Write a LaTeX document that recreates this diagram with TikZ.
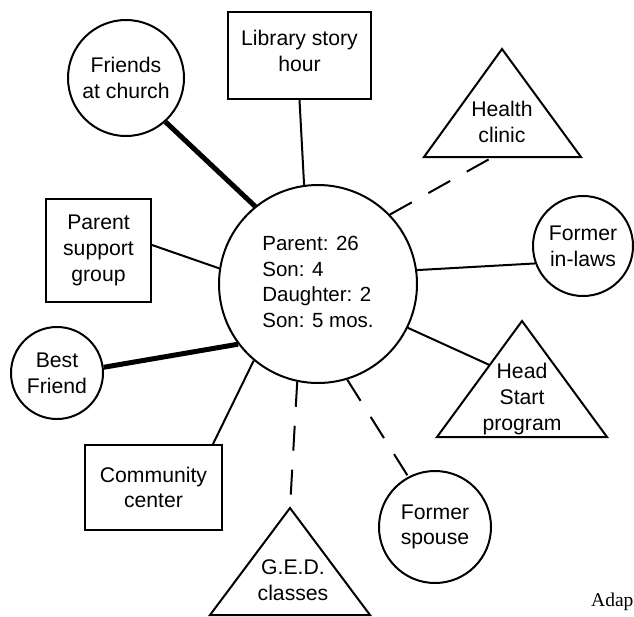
\documentclass[tikz,border=0pt]{standalone}
\usepackage{fontspec}
\setmainfont{Liberation Sans}
\newfontfamily\serifadap{Liberation Serif}
\begin{document}
\begin{tikzpicture}[x=1pt,y=-1pt,
  every node/.style={font=\fontsize{21.2}{25.7}\selectfont, align=center, inner sep=0pt},
  circ/.style={circle, draw, line width=2pt},
  boxnode/.style={rectangle, draw, line width=2pt},
  tri/.style={line width=2pt, line join=miter},
  link/.style={line width=2pt},
  stronglink/.style={line width=5pt},
  weaklink/.style={line width=2pt, dash pattern=on 25pt off 19pt}]
\useasboundingbox (0,0) rectangle (634,616);

% centre
\node[circ, minimum size=198pt, font=\fontsize{20.5}{25.7}\selectfont] (c) at (318,284) {\begin{tabular}{@{}l@{}}Parent: 26\\Son: 4\\Daughter: 2\\Son: 5 mos.\end{tabular}};

% circles
\node[circ, minimum size=116pt] (fc) at (126,78) {Friends\\at church};
\node[circ, minimum size=100pt] (fil) at (583,246) {Former\\in-laws};
\node[circ, minimum size=92pt] (bf) at (57,373) {Best\\Friend};
\node[circ, minimum size=112pt] (fs) at (435,527) {Former\\spouse};

% boxes
\node[boxnode, minimum width=143pt, minimum height=87pt] (lib) at (299.5,55.5) {};
\node (libt) at (299.5,51) {Library story\\hour};
\node[boxnode, minimum width=105pt, minimum height=103pt] (psg) at (98.5,250.5) {Parent\\support\\group};
\node[boxnode, minimum width=137pt, minimum height=85pt] (cc) at (153.5,487.5) {Community\\center};

% triangles
\coordinate (hc-a) at (502,49);
\coordinate (hc-l) at (424,157);
\coordinate (hc-r) at (581,157);
\coordinate (hc-in) at (493,157);
\draw[tri] (hc-a) -- (hc-r) -- (hc-l) -- cycle;
\node (hct) at (502,122) {Health\\clinic};

\coordinate (hs-a) at (522,321);
\coordinate (hs-l) at (437,437);
\coordinate (hs-r) at (607,437);
\coordinate (hs-in) at (489.5,365);
\draw[tri] (hs-a) -- (hs-r) -- (hs-l) -- cycle;
\node (hst) at (522,399) {Head\\Start\\program};

\coordinate (ged-a) at (290,508);
\coordinate (ged-l) at (210,615);
\coordinate (ged-r) at (370,615);
\draw[tri] (ged-a) -- (ged-r) -- (ged-l) -- cycle;
\node (gedt) at (293,580) {G.E.D.\\classes};

% caption
\node[font=\serifadap\fontsize{19.5}{22}\selectfont, anchor=base west] (adap) at (591,606) {Adap};

% connectors
\draw[link] (lib.south) -- (c.98.6);
\draw[stronglink] (fc.-48.6) -- (c.129.7);
\draw[weaklink] (c.44.2) -- (hc-in);
\draw[link] (c.8.7) -- (fil.200);
\draw[link] ([yshift=5.5pt]psg.east) -- (c.171);
\draw[stronglink] (bf.7.4) -- (c.217.3);
\draw[link] ([xshift=-10pt]cc.north east) -- (c.230.6);
\draw[weaklink] (c.258.6) -- (ged-a);
\draw[weaklink] (c.287.4) -- (fs.118.4);
\draw[link] (c.334.7) -- (hs-in);
\end{tikzpicture}
\end{document}
